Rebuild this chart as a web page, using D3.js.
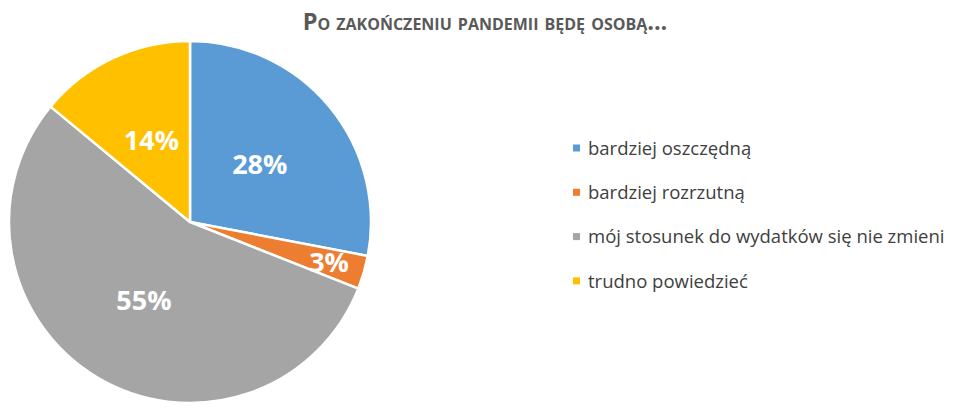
<!DOCTYPE html>
<html>
  <head>
    <meta charset="utf-8">
    <title>Po zakończeniu pandemii</title>
    <script type="text/javascript" src="https://cdn.jsdelivr.net/npm/d3@7"></script>
    <style type='text/css'>
      body { margin: 0; background: #fff; }
      svg { display: block; }
    </style>
  </head>
  <body>
    <script type="text/javascript">
      var w = 960;
      var h = 416;

      var categories = ['bardziej oszczędną', 'bardziej rozrzutną', 'mój stosunek do wydatków się nie zmieni', 'trudno powiedzieć'];
      var values = [28, 3, 55, 14];
      var colors = ['#5B9BD5', '#ED7D31', '#A5A5A5', '#FFC000'];
      var title = 'Po zakończeniu pandemii będę osobą...';

      var cx = 190, cy = 222, radius = 181;

      var svg = d3.select('body')
                  .append('svg')
                  .attr('width', w)
                  .attr('height', h);

      svg.append('text')
        .text(title)
        .attr('x', 485)
        .attr('y', 30)
        .attr('text-anchor', 'middle')
        .attr('font-family', 'Open Sans')
        .attr('font-weight', 'bold')
        .attr('font-size', '23.5px')
        .style('font-variant', 'small-caps')
        .attr('fill', '#595959');

      var pie = d3.pie().sort(null).value(function(d) {return d;});
      var arcs = pie(values);
      var arc = d3.arc().innerRadius(0).outerRadius(radius);

      var g = svg.append('g').attr('transform', 'translate(' + cx + ',' + cy + ')');

      g.selectAll('path')
        .data(arcs)
        .enter()
        .append('path')
        .attr('d', arc)
        .attr('fill', function(d, i) {return colors[i];})
        .attr('stroke', '#fff')
        .attr('stroke-width', 2.5)
        .attr('stroke-linejoin', 'round');

      // small slices get their label pushed toward the rim
      g.selectAll('text')
        .data(arcs)
        .enter()
        .append('text')
        .text(function(d) {return d.data + '%';})
        .attr('transform', function(d) {
          var r = d.data < 5 ? radius * 0.8 : radius * 0.5;
          var c = d3.arc().innerRadius(r).outerRadius(r).centroid(d);
          return 'translate(' + c[0] + ',' + c[1] + ')';
        })
        .attr('dy', '0.36em')
        .attr('text-anchor', 'middle')
        .attr('font-family', 'Open Sans')
        .attr('font-weight', 'bold')
        .attr('font-size', '27px')
        .attr('fill', '#fff');

      var legend = svg.append('g').attr('transform', 'translate(573,148)');
      var rowH = 44.3;

      legend.selectAll('rect')
        .data(categories)
        .enter()
        .append('rect')
        .attr('x', 0)
        .attr('y', function(d, i) {return i * rowH - 3.5;})
        .attr('width', 7)
        .attr('height', 7)
        .attr('fill', function(d, i) {return colors[i];});

      legend.selectAll('text')
        .data(categories)
        .enter()
        .append('text')
        .text(function(d) {return d;})
        .attr('x', 15)
        .attr('y', function(d, i) {return i * rowH;})
        .attr('dy', '0.36em')
        .attr('font-family', 'Open Sans')
        .attr('font-size', '18.5px')
        .attr('fill', '#404040');
    </script>
  </body>
</html>
